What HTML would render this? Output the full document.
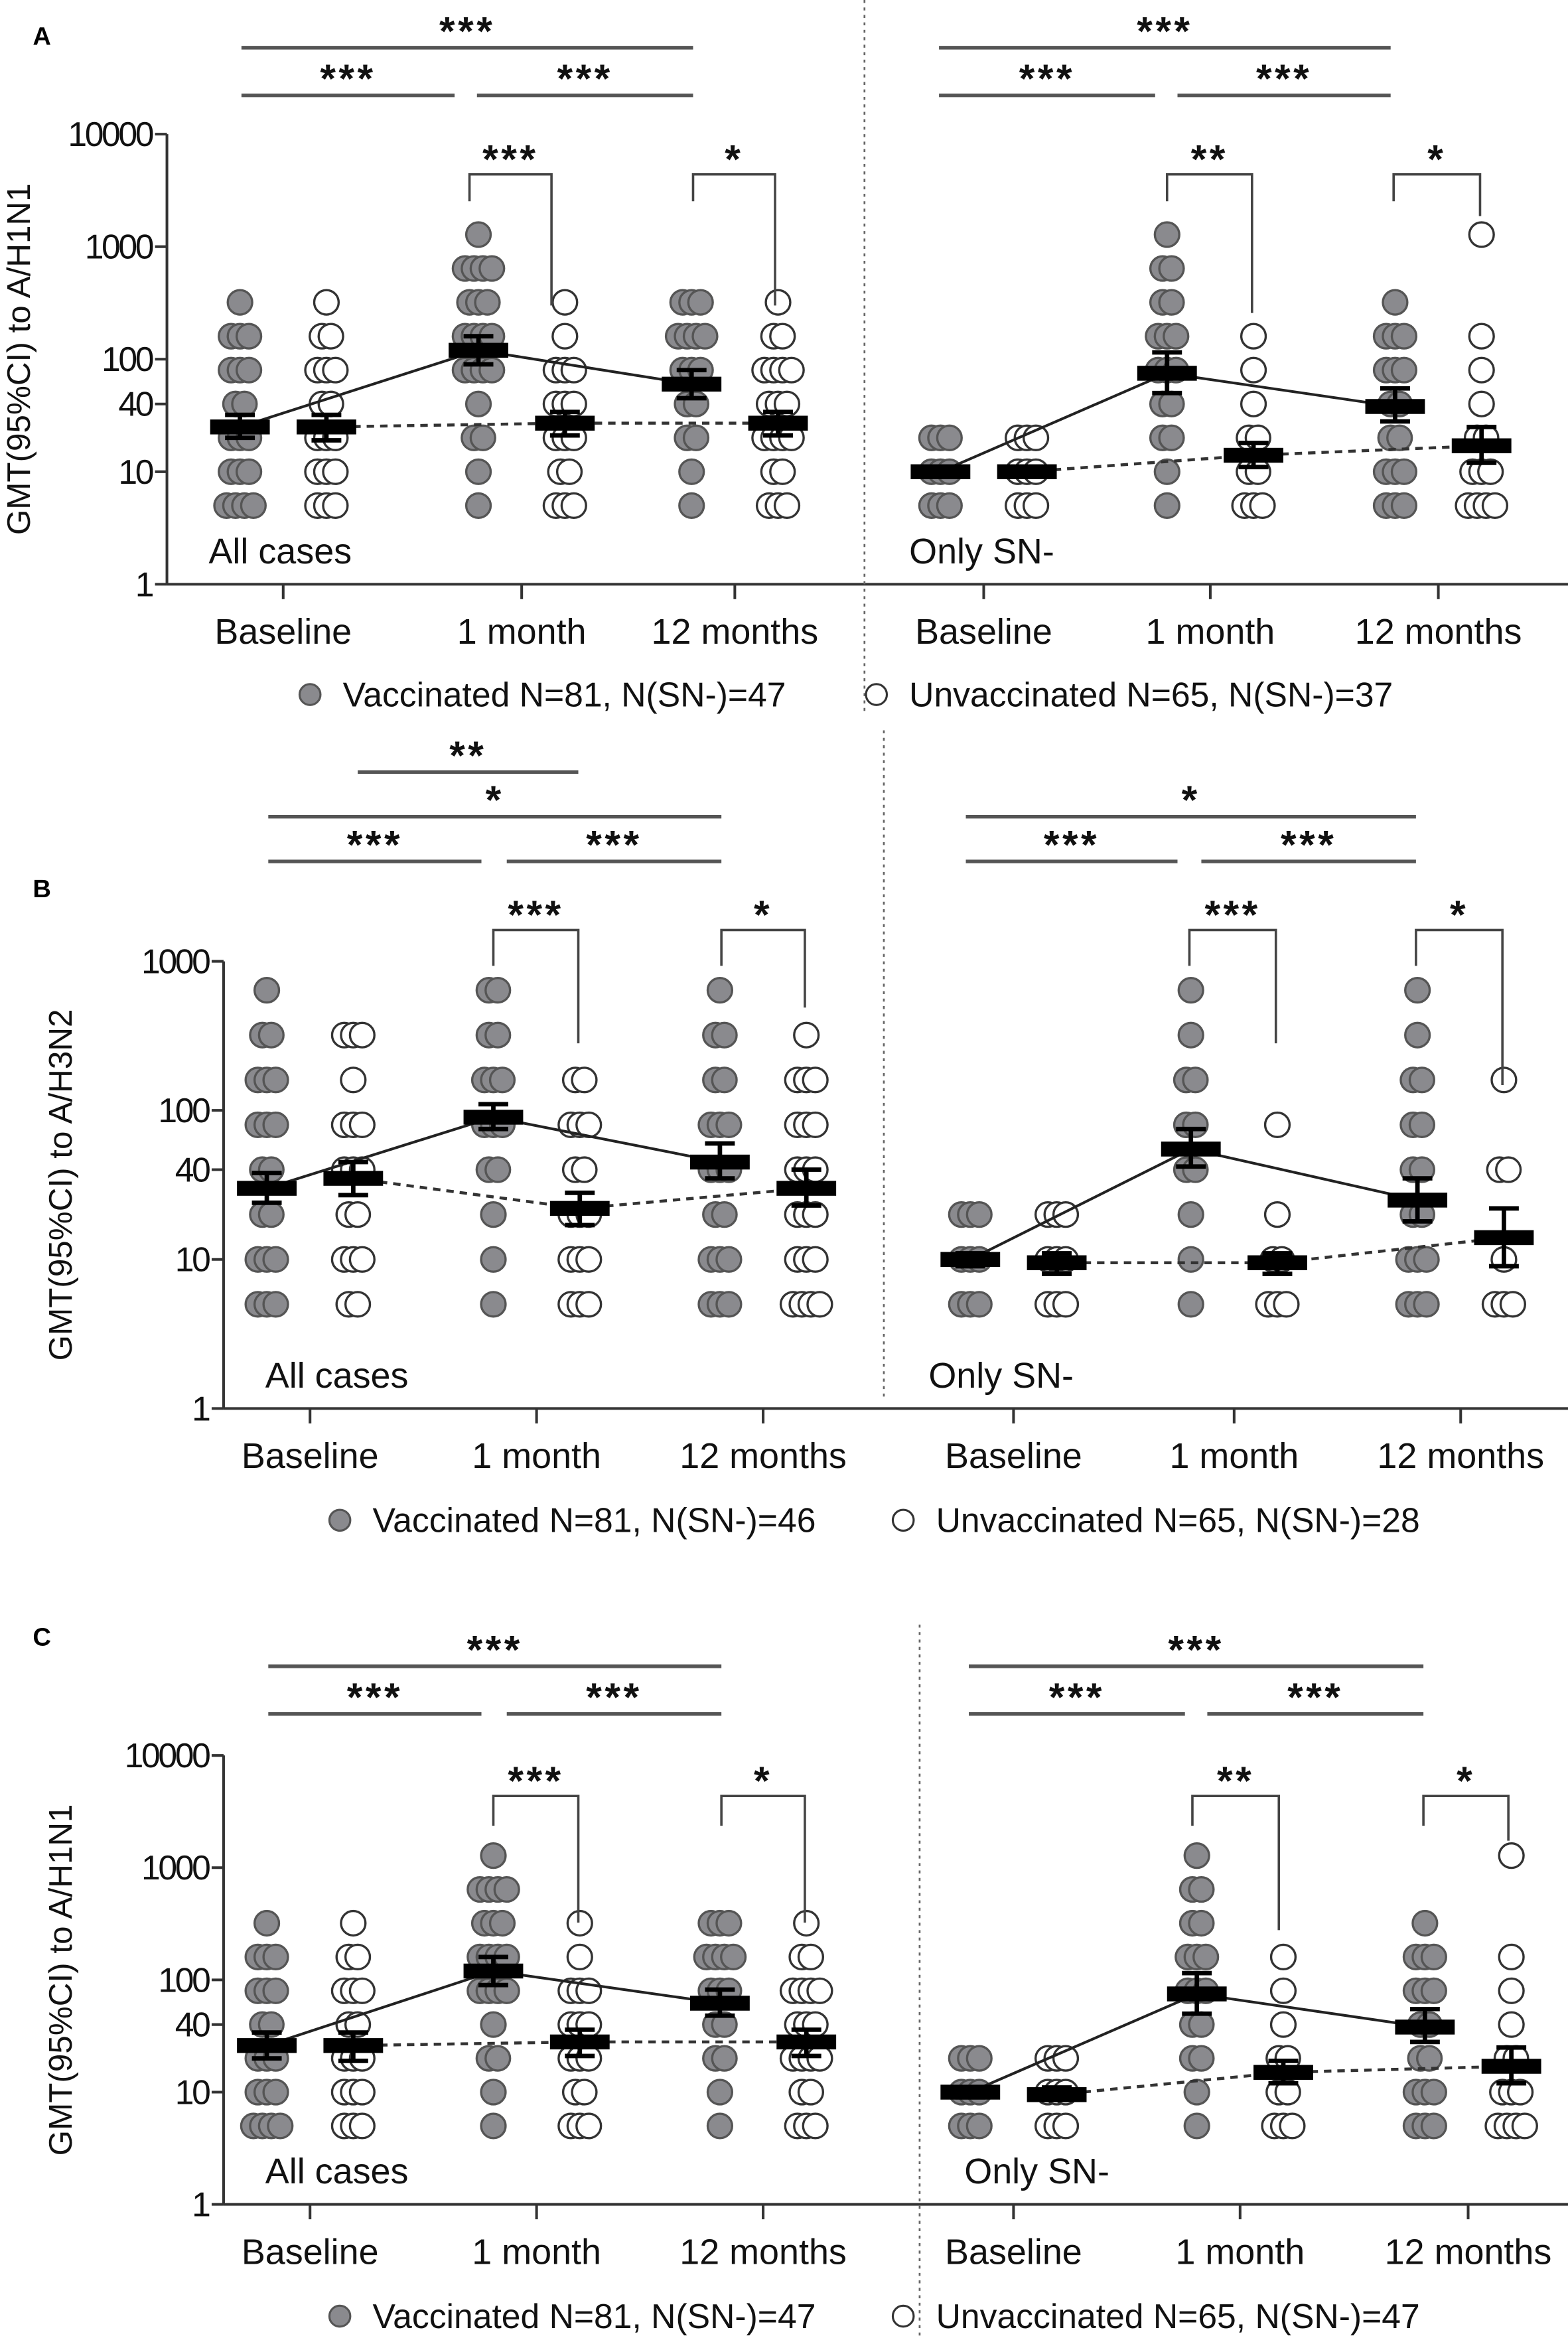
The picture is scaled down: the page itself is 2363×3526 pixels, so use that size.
<!DOCTYPE html>
<html><head><meta charset="utf-8">
<style>
html,body{margin:0;padding:0;background:#fff;}
svg{display:block;font-family:"Liberation Sans",Arial,sans-serif;}
</style></head>
<body>
<svg id="fig" width="2363" height="3526" viewBox="0 0 1052 1570" preserveAspectRatio="none" xmlns="http://www.w3.org/2000/svg"></svg>
<script>
// ---------- DATA ----------
const categories = ["Baseline", "1 month", "12 months"];
const levelsA = [5,10,20,40,80,160,320,640,1280];
const levelsB = [5,10,20,40,80,160,320,640];
const yTicksA = [1,10,40,100,1000,10000];
const yTicksB = [1,10,40,100,1000];

// Panel A (H1N1) all cases
const aAllVaccCounts = [[4,3,3,2,3,3,1,0,0],[1,1,2,1,4,4,3,4,1],[1,1,2,2,3,4,3,0,0]];
const aAllUnvCounts  = [[3,3,3,2,3,2,1,0,0],[3,2,3,3,3,1,1,0,0],[3,2,4,3,4,2,1,0,0]];
const aAllVaccGmt = [25,120,60], aAllVaccLo = [20,90,45], aAllVaccHi = [32,160,80];
const aAllUnvGmt  = [25,27,27],  aAllUnvLo  = [19,21,21], aAllUnvHi  = [32,34,34];
// Panel A only SN-
const aSnVaccCounts = [[3,3,3,0,0,0,0,0,0],[1,1,2,2,3,3,2,2,1],[3,3,2,2,3,3,1,0,0]];
const aSnUnvCounts  = [[3,3,3,0,0,0,0,0,0],[3,2,2,1,1,1,0,0,0],[4,3,2,1,1,1,0,0,1]];
const aSnVaccGmt = [10,75,38], aSnVaccLo = [9,50,28], aSnVaccHi = [11,115,55];
const aSnUnvGmt  = [10,14,17], aSnUnvLo  = [9,11,12], aSnUnvHi  = [11,18,25];

// Panel B (H3N2) all cases
const bAllVaccCounts = [[3,3,2,2,3,3,2,1],[1,1,1,2,3,3,2,2],[3,3,2,3,3,2,2,1]];
const bAllUnvCounts  = [[2,3,2,3,3,1,3,0],[3,3,3,2,3,2,0,0],[4,3,3,3,3,3,1,0]];
const bAllVaccGmt = [30,90,45], bAllVaccLo = [24,75,35], bAllVaccHi = [38,110,60];
const bAllUnvGmt  = [35,22,30], bAllUnvLo  = [27,17,23], bAllUnvHi  = [45,28,40];
// Panel B only SN-
const bSnVaccCounts = [[3,3,3,0,0,0,0,0],[1,1,1,2,2,2,1,1],[3,3,2,2,2,2,1,1]];
const bSnUnvCounts  = [[3,3,3,0,0,0,0,0],[3,2,1,0,1,0,0,0],[3,1,0,2,0,1,0,0]];
const bSnVaccGmt = [10,55,25], bSnVaccLo = [9,42,18], bSnVaccHi = [11,75,35];
const bSnUnvGmt  = [9.5,9.5,14], bSnUnvLo = [8,8,9], bSnUnvHi = [11,11,22];

// Panel C (H1N1)
const cAllVaccCounts = [[4,3,3,2,3,3,1,0,0],[1,1,2,1,4,4,3,4,1],[1,1,2,2,3,4,3,0,0]];
const cAllUnvCounts  = [[3,3,3,2,3,2,1,0,0],[3,2,3,3,3,1,1,0,0],[3,2,4,3,4,2,1,0,0]];
const cAllVaccGmt = [26,120,62], cAllVaccLo = [20,90,48], cAllVaccHi = [34,160,82];
const cAllUnvGmt  = [26,28,28],  cAllUnvLo  = [19,21,21], cAllUnvHi  = [34,36,36];
const cSnVaccCounts = [[3,3,3,0,0,0,0,0,0],[1,1,2,2,3,3,2,2,1],[3,3,2,2,3,3,1,0,0]];
const cSnUnvCounts  = [[3,3,3,0,0,0,0,0,0],[3,2,2,1,1,1,0,0,0],[4,3,2,1,1,1,0,0,1]];
const cSnVaccGmt = [10,75,38], cSnVaccLo = [9,50,28], cSnVaccHi = [11,115,55];
const cSnUnvGmt  = [9.5,15,17], cSnUnvLo = [8.5,12,12], cSnUnvHi = [11,19,25];

// ---------- DRAW ----------
const NS = "http://www.w3.org/2000/svg";
const svg = document.getElementById("fig");
function el(tag, attrs, parent, txt){
  const e = document.createElementNS(NS, tag);
  for (const k in attrs) e.setAttribute(k, attrs[k]);
  if (txt !== undefined) e.textContent = txt;
  (parent || svg).appendChild(e);
  return e;
}
function makeY(y1, perDec){ return v => y1 - Math.log10(v) * perDec; }

function drawHalf(g, y, xs, levels, vC, uC, vG, vL, vH, uG, uL, uH, label, labelX, labelY){
  for (let c = 0; c < 3; c++){
    [[vC, xs[c]-29, true],[uC, xs[c]+29, false]].forEach(([cnts, cx, filled]) => {
      levels.forEach((lv, i) => {
        const n = cnts[c][i];
        for (let k = 0; k < n; k++){
          const d = el("circle", {cx: cx + (k-(n-1)/2)*6, cy: y(lv), r: 8.2,
            fill: filled ? "#8a8a8e" : "#fff", stroke: filled ? "#555" : "#333", "stroke-width": 1.5}, g);
          
          
        }
      });
    });
  }
  const vp = xs.map((x,i)=>(x-29)+","+y(vG[i])).join(" ");
  const up = xs.map((x,i)=>(x+29)+","+y(uG[i])).join(" ");
  const l1 = el("polyline", {points: vp, fill:"none", stroke:"#222", "stroke-width":1.8}, g);
  
  
  const l2 = el("polyline", {points: up, fill:"none", stroke:"#333", "stroke-width":2, "stroke-dasharray":"5,4"}, g);
  
  
  for (let c = 0; c < 3; c++){
    [[xs[c]-29, vG[c], vL[c], vH[c]],[xs[c]+29, uG[c], uL[c], uH[c]]].forEach(([cx, m, lo, hi]) => {
      const eg = el("g", {}, g);
      
      
      el("line",{x1:cx,x2:cx,y1:y(lo),y2:y(hi),stroke:"#000","stroke-width":3},eg);
      el("line",{x1:cx-10,x2:cx+10,y1:y(lo),y2:y(lo),stroke:"#000","stroke-width":3},eg);
      el("line",{x1:cx-10,x2:cx+10,y1:y(hi),y2:y(hi),stroke:"#000","stroke-width":3},eg);
      el("rect",{x:cx-20,y:y(m)-5,width:40,height:10,fill:"#000"},eg);
    });
  }
  const t = el("text",{x:labelX,y:labelY,"font-size":24,fill:"#111"},g,label);
  
  
}

function hline(g,x1,x2,yy,stars,name){
  const l = el("line",{x1:x1,x2:x2,y1:yy,y2:yy,stroke:"#555","stroke-width":2.4},g);
  
  
  el("text",{x:(x1+x2)/2,y:yy-2,"font-size":27,"font-weight":"bold","text-anchor":"middle","letter-spacing":"2",fill:"#111"},g,stars);
}
function pairBr(g,x1,x2,yy,yl,yr,stars){
  const p = el("polyline",{points:`${x1},${yl} ${x1},${yy} ${x2},${yy} ${x2},${yr}`,fill:"none",stroke:"#444","stroke-width":1.6},g);
  
  
  el("text",{x:(x1+x2)/2,y:yy-1,"font-size":27,"font-weight":"bold","text-anchor":"middle","letter-spacing":"2",fill:"#111"},g,stars);
}

function panel(o){
  const g = el("g",{});
  
  
  const y = makeY(o.y1, o.perDec);
  const top = y(o.yTicks[o.yTicks.length-1]);
  el("text",{x:22,y:o.letterY,"font-size":17,"font-weight":"bold"},g,o.letter);
  const ax = el("g",{},g);
  
  
  el("line",{x1:o.axX,x2:o.axX,y1:top,y2:o.y1,stroke:"#333","stroke-width":1.8},ax);
  o.yTicks.forEach(v=>{
    el("line",{x1:o.axX-8,x2:o.axX,y1:y(v),y2:y(v),stroke:"#333","stroke-width":1.8},ax);
    el("text",{x:o.axX-10,y:y(v)+8,"font-size":23,"text-anchor":"end",fill:"#111","letter-spacing":"-1.5"},ax,String(v));
  });
  const yt = el("text",{x:0,y:0,"font-size":22,"text-anchor":"middle",fill:"#111",
    transform:`translate(${o.ytX},${(top+o.y1)/2}) rotate(-90)`},g,o.yTitle);
  
  
  const xa = el("g",{},g);
  
  
  el("line",{x1:o.axX,x2:1052,y1:o.y1,y2:o.y1,stroke:"#333","stroke-width":1.8},xa);
  o.xsL.concat(o.xsR).forEach((x,i)=>{
    el("line",{x1:x,x2:x,y1:o.y1,y2:o.y1+10,stroke:"#333","stroke-width":1.8},xa);
    el("text",{x:x,y:o.y1+40,"font-size":24,"text-anchor":"middle",fill:"#111"},xa,categories[i%3]);
  });
  el("line",{x1:o.divX,x2:o.divX,y1:o.divTop,y2:o.divBot,stroke:"#666","stroke-width":1.2,"stroke-dasharray":"2,3"},g);
  drawHalf(g,y,o.xsL,o.levels,...o.left,"All cases",o.axX+28,o.y1-14);
  drawHalf(g,y,o.xsR,o.levels,...o.right,"Only SN-",o.divX+30,o.y1-14);
  o.hl.forEach(h=>hline(g,...h,'significance-line'));
  o.pb.forEach(p=>pairBr(g,...p));
  const lg = el("g",{},g);
  
  
  el("circle",{cx:o.legX1,cy:o.legY-8,r:7,fill:"#8a8a8e",stroke:"#555","stroke-width":1.4},lg);
  el("text",{x:o.legX1+22,y:o.legY,"font-size":23,fill:"#111"},lg,o.legV);
  el("circle",{cx:o.legX2,cy:o.legY-8,r:7,fill:"#fff",stroke:"#333","stroke-width":1.4},lg);
  el("text",{x:o.legX2+22,y:o.legY,"font-size":23,fill:"#111"},lg,o.legU);
}

panel({name:"panel-a",letter:"A",letterY:30,y1:392,perDec:75.5,yTicks:yTicksA,levels:levelsA,axX:112,ytX:20,
  yTitle:"GMT(95%CI) to A/H1N1",xsL:[190,350,493],xsR:[660,812,965],divX:580,divTop:0,divBot:478,
  left:[aAllVaccCounts,aAllUnvCounts,aAllVaccGmt,aAllVaccLo,aAllVaccHi,aAllUnvGmt,aAllUnvLo,aAllUnvHi],
  right:[aSnVaccCounts,aSnUnvCounts,aSnVaccGmt,aSnVaccLo,aSnVaccHi,aSnUnvGmt,aSnUnvLo,aSnUnvHi],
  hl:[[162,465,32,"***"],[162,305,64,"***"],[320,465,64,"***"],[630,933,32,"***"],[630,775,64,"***"],[790,933,64,"***"]],
  pb:[[315,370,117,135,205,"***"],[465,520,117,135,205,"*"],[783,840,117,135,210,"**"],[935,993,117,135,145,"*"]],
  legX1:208,legX2:588,legY:474,legV:"Vaccinated N=81, N(SN-)=47",legU:"Unvaccinated N=65, N(SN-)=37"});

panel({name:"panel-b",letter:"B",letterY:602,y1:945,perDec:100,yTicks:yTicksB,levels:levelsB,axX:150,ytX:48,
  yTitle:"GMT(95%CI) to A/H3N2",xsL:[208,360,512],xsR:[680,828,980],divX:593,divTop:490,divBot:940,
  left:[bAllVaccCounts,bAllUnvCounts,bAllVaccGmt,bAllVaccLo,bAllVaccHi,bAllUnvGmt,bAllUnvLo,bAllUnvHi],
  right:[bSnVaccCounts,bSnUnvCounts,bSnVaccGmt,bSnVaccLo,bSnVaccHi,bSnUnvGmt,bSnUnvLo,bSnUnvHi],
  hl:[[240,388,518,"**"],[180,484,548,"*"],[180,323,578,"***"],[340,484,578,"***"],[648,950,548,"*"],[648,790,578,"***"],[806,950,578,"***"]],
  pb:[[331,388,624,648,700,"***"],[484,540,624,648,676,"*"],[798,856,624,648,700,"***"],[950,1008,624,648,728,"*"]],
  legX1:228,legX2:606,legY:1028,legV:"Vaccinated N=81, N(SN-)=46",legU:"Unvaccinated N=65, N(SN-)=28"});

panel({name:"panel-c",letter:"C",letterY:1104,y1:1479,perDec:75.3,yTicks:yTicksA,levels:levelsA,axX:150,ytX:48,
  yTitle:"GMT(95%CI) to A/H1N1",xsL:[208,360,512],xsR:[680,832,985],divX:617,divTop:1090,divBot:1570,
  left:[cAllVaccCounts,cAllUnvCounts,cAllVaccGmt,cAllVaccLo,cAllVaccHi,cAllUnvGmt,cAllUnvLo,cAllUnvHi],
  right:[cSnVaccCounts,cSnUnvCounts,cSnVaccGmt,cSnVaccLo,cSnVaccHi,cSnUnvGmt,cSnUnvLo,cSnUnvHi],
  hl:[[180,484,1118,"***"],[180,323,1150,"***"],[340,484,1150,"***"],[650,955,1118,"***"],[650,795,1150,"***"],[810,955,1150,"***"]],
  pb:[[331,388,1205,1225,1290,"***"],[484,540,1205,1225,1290,"*"],[800,858,1205,1225,1295,"**"],[955,1012,1205,1225,1235,"*"]],
  legX1:228,legX2:606,legY:1562,legV:"Vaccinated N=81, N(SN-)=47",legU:"Unvaccinated N=65, N(SN-)=47"});
</script>
</body></html>
